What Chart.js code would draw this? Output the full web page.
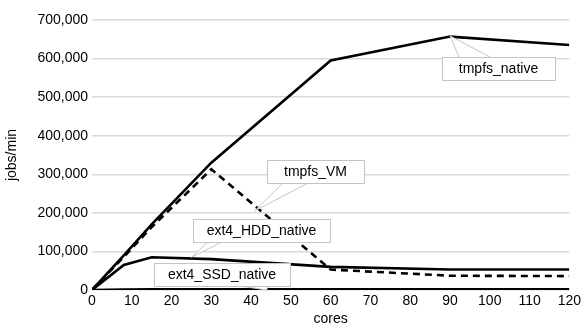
<!DOCTYPE html>
<html><head><meta charset="utf-8">
<script src="https://cdn.jsdelivr.net/npm/chart.js@4.4.1/dist/chart.umd.min.js"></script>
<style>html,body{margin:0;padding:0;background:#fff}#c{display:block}</style>
</head><body>
<canvas id="c" width="584" height="324"></canvas>
<script>
const cores = [0, 8, 15, 30, 60, 90, 120];
const tmpfsNative = [0, 90000, 170000, 330000, 595000, 657000, 635000];
const tmpfsVM = [0, 86000, 163000, 313000, 53000, 37000, 36000];
const ext4HDD = [0, 65000, 85000, 80000, 60000, 53000, 53000];
const ext4SSD = [0, 1000, 1500, 1500, 1500, 1500, 1500];
const seriesNames = ['tmpfs_native', 'tmpfs_VM', 'ext4_HDD_native', 'ext4_SSD_native'];
const xTicks = [0,10,20,30,40,50,60,70,80,90,100,110,120];
// callout layout: label, anchor (data x, y), box centre (data x, y), box width px, wedge base offsets px, side
const callouts = [
  {t: 'tmpfs_native', ax: 90, ay: 659000, bx: 102.1, by: 575000, w: 113, b: [17, 48], side: 'top'},
  {t: 'tmpfs_VM', ax: 40.9, ay: 205000, bx: 56.1, by: 307000, w: 97, b: [16, 41], side: 'bottom'},
  {t: 'ext4_HDD_native', ax: 25.0, ay: 85000, bx: 42.6, by: 154000, w: 137, b: [15, 29], side: 'bottom'},
  {t: 'ext4_SSD_native', ax: 43.9, ay: 0, bx: 32.6, by: 39000, w: 136, b: [86, 114], side: 'bottom'}
];
const FONT = 'Liberation Sans';
const toXY = (arr) => arr.map((v, i) => ({x: cores[i], y: v}));

const calloutPlugin = {
  id: 'callouts',
  afterDatasetsDraw(chart) {
    const ctx = chart.ctx, xs = chart.scales.x, ys = chart.scales.y;
    ctx.save();
    ctx.font = '14px "' + FONT + '"';
    callouts.forEach((c) => {
      const px = xs.getPixelForValue(c.ax), py = ys.getPixelForValue(c.ay);
      const cx = xs.getPixelForValue(c.bx), cy = ys.getPixelForValue(c.by);
      const w = c.w, h = 23;
      const l = Math.round(cx - w / 2), tp = Math.round(cy - h / 2);
      const ey = c.side === 'top' ? tp : tp + h;
      ctx.beginPath();
      ctx.moveTo(l + c.b[0], ey); ctx.lineTo(px, py); ctx.lineTo(l + c.b[1], ey);
      ctx.fillStyle = '#fff'; ctx.fill();
      ctx.strokeStyle = '#c4c4c4'; ctx.lineWidth = 1; ctx.stroke();
      ctx.fillStyle = '#fff';
      ctx.fillRect(l, tp, w, h);
      ctx.strokeRect(l + 0.5, tp + 0.5, w, h);
      ctx.fillStyle = '#000'; ctx.textAlign = 'center'; ctx.textBaseline = 'middle';
      ctx.fillText(c.t, l + w / 2, tp + h / 2 + 1);
    });
    ctx.restore();
  }
};

new Chart(document.getElementById('c'), {
  type: 'line',
  data: {
    datasets: [
      {label: seriesNames[0], data: toXY(tmpfsNative), borderColor: '#000', borderWidth: 2.6, pointRadius: 0, tension: 0},
      {label: seriesNames[1], data: toXY(tmpfsVM), borderColor: '#000', borderWidth: 2.6, borderDash: [7, 5], pointRadius: 0, tension: 0},
      {label: seriesNames[2], data: toXY(ext4HDD), borderColor: '#000', borderWidth: 2.6, pointRadius: 0, tension: 0},
      {label: seriesNames[3], data: toXY(ext4SSD), borderColor: '#000', borderWidth: 2.6, pointRadius: 0, tension: 0}
    ]
  },
  options: {
    responsive: false, animation: false, devicePixelRatio: 1,
    layout: {padding: {top: 20, right: 14, left: 4, bottom: 0}},
    plugins: {legend: {display: false}, tooltip: {enabled: false}},
    scales: {
      x: {
        type: 'linear', min: 0, max: 120,
        afterBuildTicks: (s) => { s.ticks = xTicks.map(v => ({value: v})); },
        grid: {display: false, drawTicks: false},
        border: {display: false},
        ticks: {color: '#000', font: {family: FONT, size: 14}, padding: 3, maxRotation: 0, autoSkip: false},
        title: {display: true, text: 'cores', color: '#000', font: {family: FONT, size: 14}, padding: {top: 0, bottom: -4}},
        afterFit: (s) => { s.height = 34; }
      },
      y: {
        min: 0, max: 700000,
        ticks: {stepSize: 100000, color: '#000', font: {family: FONT, size: 14}, padding: 4,
          callback: (v) => v.toLocaleString('en-US')},
        grid: {color: '#d9d9d9', lineWidth: 1.5, drawTicks: false},
        border: {display: false},
        title: {display: true, text: 'jobs/min', color: '#000', font: {family: FONT, size: 14}, padding: 0},
        afterFit: (s) => { s.width = 88; }
      }
    }
  },
  plugins: [calloutPlugin]
});
</script>
</body></html>
